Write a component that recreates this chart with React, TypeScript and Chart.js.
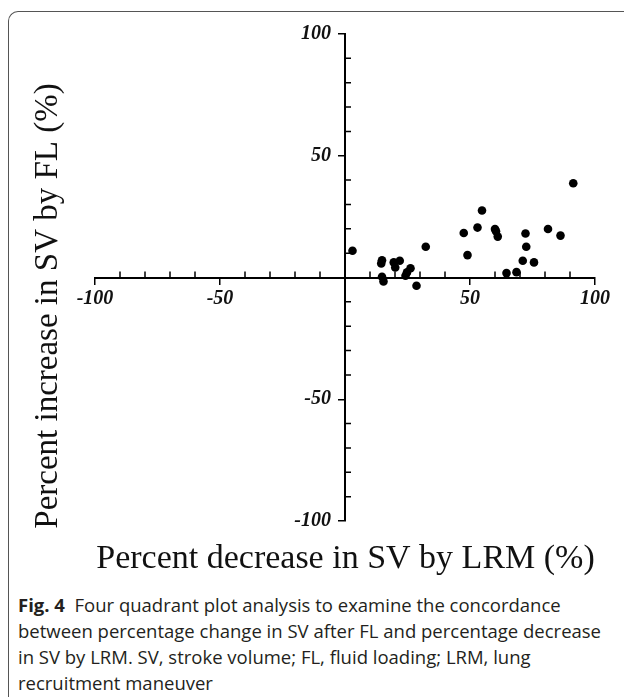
import React, { useEffect, useRef } from "react";
import { Chart, registerables } from "chart.js";

Chart.register(...registerables);

// Percent decrease in SV by LRM (%)
const lrmDecrease = [3, 14.8, 14.5, 14.8, 15.4, 19.5, 20.1, 21.9, 24.2, 24.8, 26.2, 28.6, 32.3, 47.5, 49.0, 53.0, 54.8, 60.0, 60.4, 61.1, 64.6, 68.6, 71.1, 72.2, 72.5, 75.6, 81.2, 86.2, 91.3];
// Percent increase in SV by FL (%)
const flIncrease = [11.0, 7.1, 5.8, 0.3, -1.6, 6.2, 4.1, 6.9, 0.7, 2.1, 3.8, -3.4, 12.6, 18.3, 9.2, 20.5, 27.5, 19.9, 19.0, 16.8, 1.8, 2.2, 6.9, 18.1, 12.6, 6.2, 19.9, 17.2, 38.7];

const axisMin = -100;
const axisMax = 100;
const majorStep = 50;
const minorStep = 10;

const xTitle = "Percent decrease in SV by LRM (%)";
const yTitle = "Percent increase in SV by FL (%)";

const tickFont = { family: "'Liberation Serif', 'Times New Roman', serif", size: 20, weight: "bold" as const, style: "italic" as const };

const minorTicksPlugin = {
  id: "minorTicks",
  afterDatasetsDraw(chart: any) {
    const { ctx, scales } = chart;
    const xs = scales.x;
    const ys = scales.y;
    const x0 = xs.getPixelForValue(0);
    const y0 = ys.getPixelForValue(0);
    ctx.save();
    ctx.strokeStyle = "#000";
    ctx.lineWidth = 1.5;
    ctx.beginPath();
    for (let v = axisMin; v <= axisMax; v += minorStep) {
      if (v % majorStep === 0) continue;
      const px = xs.getPixelForValue(v);
      ctx.moveTo(px, y0);
      ctx.lineTo(px, y0 - 6);
      const py = ys.getPixelForValue(v);
      ctx.moveTo(x0, py);
      ctx.lineTo(x0 + 6, py);
    }
    ctx.stroke();
    ctx.restore();
  },
};

const titlesPlugin = {
  id: "axisTitles",
  afterDraw(chart: any) {
    const { ctx, scales } = chart;
    ctx.save();
    ctx.fillStyle = "#111";
    ctx.textAlign = "center";
    ctx.textBaseline = "alphabetic";
    ctx.font = "34px 'Liberation Serif', 'Times New Roman', serif";
    ctx.fillText(xTitle, scales.x.getPixelForValue(0) + 0.5, 568);
    ctx.font = "33px 'Liberation Serif', 'Times New Roman', serif";
    ctx.translate(57, 306);
    ctx.rotate(-Math.PI / 2);
    ctx.fillText(yTitle, 0, 0);
    ctx.restore();
  },
};

export default function App() {
  const canvasRef = useRef<HTMLCanvasElement | null>(null);

  useEffect(() => {
    if (!canvasRef.current) return;
    document.body.style.overflow = "hidden";
    const points = lrmDecrease.map((x, i) => ({ x, y: flIncrease[i] }));
    const chart = new Chart(canvasRef.current, {
      type: "scatter",
      data: {
        datasets: [
          {
            data: points,
            backgroundColor: "#000",
            borderColor: "#000",
            borderWidth: 0,
            pointRadius: 4.3,
            pointHoverRadius: 4.3,
          },
        ],
      },
      options: {
        animation: false,
        responsive: false,
        devicePixelRatio: 1,
        layout: { padding: { left: 95, right: 29, top: 34, bottom: 59 } },
        plugins: { legend: { display: false }, tooltip: { enabled: false } },
        scales: {
          x: {
            type: "linear",
            position: { y: 0 } as any,
            min: axisMin,
            max: axisMax,
            border: { display: true, color: "#000", width: 2 },
            grid: { drawOnChartArea: false, drawTicks: true, tickLength: 6, color: "#000", lineWidth: 1.5 },
            ticks: {
              stepSize: majorStep,
              autoSkip: false,
              maxRotation: 0,
              padding: 3,
              color: "#111",
              font: tickFont,
              callback: (v: any) => (Number(v) === 0 ? "" : String(v)),
            },
          },
          y: {
            type: "linear",
            position: { x: 0 } as any,
            min: axisMin,
            max: axisMax,
            border: { display: true, color: "#000", width: 2 },
            grid: { drawOnChartArea: false, drawTicks: true, tickLength: 6, color: "#000", lineWidth: 1.5 },
            ticks: {
              stepSize: majorStep,
              autoSkip: false,
              padding: 6,
              color: "#111",
              font: tickFont,
              // centred y axis labels sit against the axis line; trailing spaces keep them clear of the tick marks
              callback: (v: any) => (Number(v) === 0 ? "" : String(v) + "\u2002\u2009"),
            },
          },
        },
      },
      plugins: [minorTicksPlugin, titlesPlugin],
    });
    return () => chart.destroy();
  }, []);

  return (
    <div style={{ position: "fixed", left: 0, top: 0, width: 624, height: 697, overflow: "hidden", background: "#fff" }}>
      <div
        style={{
          position: "absolute",
          left: 8,
          top: 11,
          width: 700,
          height: 800,
          borderTop: "1.5px solid #555",
          borderLeft: "1.5px solid #555",
          borderTopLeftRadius: 10,
          boxSizing: "border-box",
        }}
      />
      <canvas ref={canvasRef} width={624} height={580} style={{ position: "absolute", left: 0, top: 0, display: "block" }} />
      <div
        style={{
          position: "absolute",
          left: 18,
          top: 592,
          width: 606,
          fontFamily: "'Open Sans', 'Noto Sans', sans-serif",
          fontSize: 18.5,
          lineHeight: "26px",
          color: "#231f20",
          whiteSpace: "nowrap",
        }}
      >
        <b>Fig. 4</b>&nbsp; Four quadrant plot analysis to examine the concordance
        <br />
        between percentage change in SV after FL and percentage decrease
        <br />
        in SV by LRM. SV, stroke volume; FL, fluid loading; LRM, lung
        <br />
        recruitment maneuver
      </div>
    </div>
  );
}
